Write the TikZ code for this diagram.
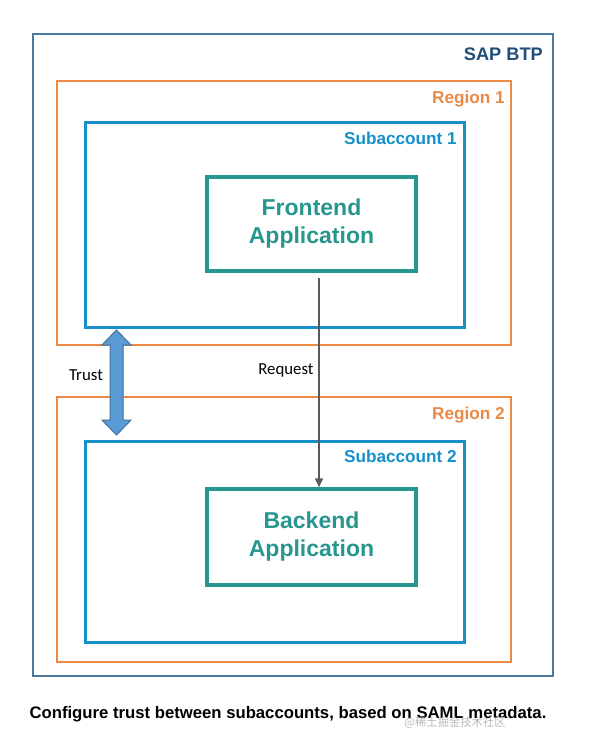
\documentclass[tikz,border=0pt]{standalone}
\usepackage{fontspec}
\setmainfont{Liberation Sans}
\newfontfamily\calibri{Carlito}
\newfontfamily\cjk{Noto Sans CJK SC}
\usepackage{tikz}
\usetikzlibrary{arrows.meta}

\definecolor{btpblue}{HTML}{4A79A0}
\definecolor{btptext}{HTML}{1F4E79}
\definecolor{regorange}{HTML}{EA8A44}
\definecolor{subblue}{HTML}{1590CB}
\definecolor{appteal}{HTML}{27968F}
\definecolor{trustfill}{HTML}{5B9BD5}
\definecolor{trustline}{HTML}{41719C}

\begin{document}
\begin{tikzpicture}
 [x=1pt,y=-1pt,
  btp box/.style={rectangle,draw=btpblue,line width=2pt,inner sep=0pt},
  region box/.style={rectangle,draw=regorange,line width=2pt,inner sep=0pt},
  sub box/.style={rectangle,draw=subblue,line width=3pt,inner sep=0pt},
  app box/.style={rectangle,draw=appteal,line width=3.5pt,align=center,text=appteal,
    font=\fontsize{23}{28}\selectfont\bfseries},
  box label/.style={anchor=base east,inner sep=0pt,font=\fontsize{17.2}{20}\selectfont\bfseries},
  small label/.style={inner sep=0pt,font=\calibri\fontsize{16.8}{19}\selectfont}]

\useasboundingbox (0,0) rectangle (589,749);

\node[btp box, minimum width=520, minimum height=642] (btp) at (293,355) {};
  \node[box label, text=btptext, font=\fontsize{18.2}{21}\selectfont\bfseries] (btp label) at (543,61) {SAP BTP};

\node[region box, minimum width=454, minimum height=264] (region1) at (284,213) {};
  \node[box label, text=regorange] (region1 label) at (505,103) {Region 1};
\node[sub box, minimum width=379, minimum height=204] (sub1) at (274.5,225) {};
  \node[box label, text=subblue] (sub1 label) at (457,144) {Subaccount 1};
\node[app box, minimum width=209, minimum height=94] (frontend) at (311.5,224) {Frontend\\Application};

\node[region box, minimum width=454, minimum height=265] (region2) at (284,529.5) {};
  \node[box label, text=regorange] (region2 label) at (505,419) {Region 2};
\node[sub box, minimum width=379, minimum height=201] (sub2) at (274.5,541.5) {};
  \node[box label, text=subblue] (sub2 label) at (457,462) {Subaccount 2};
\node[app box, minimum width=209, minimum height=96] (backend) at (311.5,537) {Backend\\Application};

% request from frontend down to backend
\coordinate (req start) at (319,278);
\draw[line width=1.5pt, draw=black!65, -{Triangle[length=9pt,width=8pt]}]
  (req start) -- (req start |- backend.north);
\node[small label] (request) at (286,370) {Request};

% trust between the subaccounts
\coordinate (trust top) at (116.5,330);
\coordinate (trust bottom) at (116.5,435);
\filldraw[fill=trustfill, draw=trustline, line width=1pt]
  (trust top) -- ++(14.5,15) -- ++(-8,0) -- ++(0,75) -- ++(8,0) -- (trust bottom)
  -- ++(-14.5,-15) -- ++(8,0) -- ++(0,-75) -- ++(-8,0) -- cycle;
\node[small label] (trust) at (86,375) {Trust};

\node[inner sep=0pt, font=\fontsize{16.7}{19}\selectfont\bfseries] (caption) at (288,714)
  {Configure trust between subaccounts, based on SAML metadata.};
\node[inner sep=0pt, text=black!28, font=\cjk\fontsize{11.3}{13}\selectfont] (mark) at (455,723)
  {@稀土掘金技术社区};

\end{tikzpicture}
\end{document}
